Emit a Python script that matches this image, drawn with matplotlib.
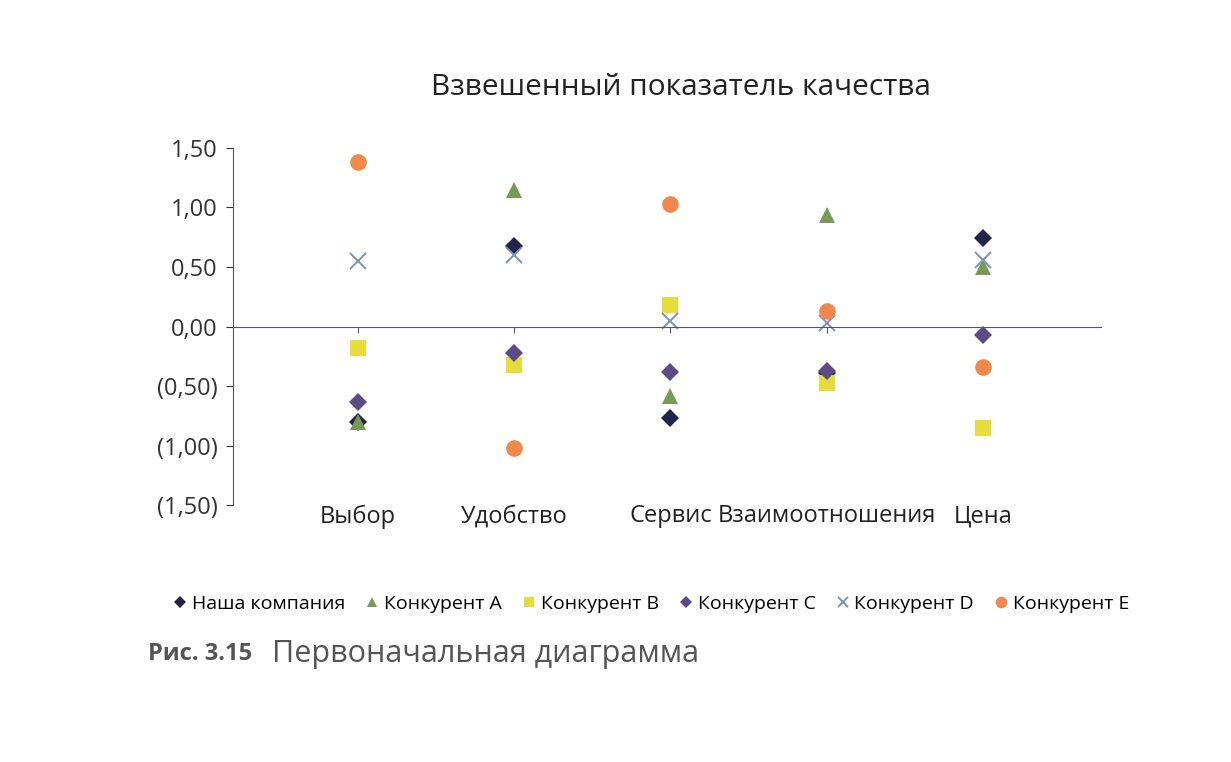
import matplotlib.pyplot as plt
from matplotlib.ticker import FuncFormatter

categories = ['Выбор', 'Удобство', 'Сервис', 'Взаимоотношения', 'Цена']
series_names = ['Наша компания', 'Конкурент A', 'Конкурент B',
                'Конкурент C', 'Конкурент D', 'Конкурент E']
our_company = [-0.80, 0.68, -0.77, -0.39, 0.74]
competitor_a = [-0.80, 1.15, -0.58, 0.94, 0.50]
competitor_b = [-0.18, -0.32, 0.18, -0.47, -0.85]
competitor_c = [-0.63, -0.22, -0.38, -0.37, -0.07]
competitor_d = [0.55, 0.60, 0.05, 0.03, 0.56]
competitor_e = [1.38, -1.02, 1.03, 0.13, -0.34]
y_ticks = [-1.5, -1.0, -0.5, 0.0, 0.5, 1.0, 1.5]


def fmt(v, pos):
    s = f'{abs(v):.2f}'.replace('.', ',')
    return f'({s})' if v < 0 else s


plt.rcParams['font.family'] = ['Open Sans', 'DejaVu Sans']

fig = plt.figure(figsize=(12.31, 7.62), dpi=100)
ax = fig.add_axes([0.189, 0.337, 0.705, 0.469])

x = list(range(len(categories)))
values = [our_company, competitor_a, competitor_b, competitor_c, competitor_d, competitor_e]
markers = ['D', '^', 's', 'D', 'x', 'o']
colors = ['#23224a', '#789a56', '#e6dc3a', '#5c4a88', '#7d93ba', '#ef8a4c']
sizes = [9, 11, 11, 9, 11, 12]

for vals, name, m, c, ms in zip(values, series_names, markers, colors, sizes):
    ax.plot(x, vals, linestyle='none', marker=m, color=c, markersize=ms,
            markeredgewidth=1.4 if m == 'x' else 0, label=name)

ax.set_xlim(-0.8, 4.75)
ax.set_ylim(-1.5, 1.5)
ax.set_yticks(y_ticks)
ax.yaxis.set_major_formatter(FuncFormatter(fmt))
ax.set_xticks(x)
ax.set_xticklabels(categories)

for side in ['top', 'right']:
    ax.spines[side].set_visible(False)
ax.spines['bottom'].set_position(('data', 0))
ax.spines['bottom'].set_color('#555566')
ax.spines['left'].set_color('#555555')
ax.tick_params(axis='y', direction='out', length=5, labelsize=17, colors='#333333', pad=6)
ax.tick_params(axis='x', direction='out', length=4, labelsize=17, pad=124,
               colors='#555566', labelcolor='#222222')

fig.text(0.553, 0.885, 'Взвешенный показатель качества', ha='center', va='center',
         fontsize=21.5, color='#222222')

fig.legend(loc='center', bbox_to_anchor=(0.528, 0.208), ncol=6, frameon=False,
           fontsize=14, handletextpad=0.1, columnspacing=0.9, handlelength=1.0,
           markerscale=0.7)

fig.text(0.12, 0.142, 'Рис. 3.15', fontsize=17, fontweight='bold', color='#555555',
         va='center')
fig.text(0.221, 0.142, 'Первоначальная диаграмма', fontsize=22, color='#555555',
         va='center')

fig.savefig('out.png', dpi=100, facecolor='white')
